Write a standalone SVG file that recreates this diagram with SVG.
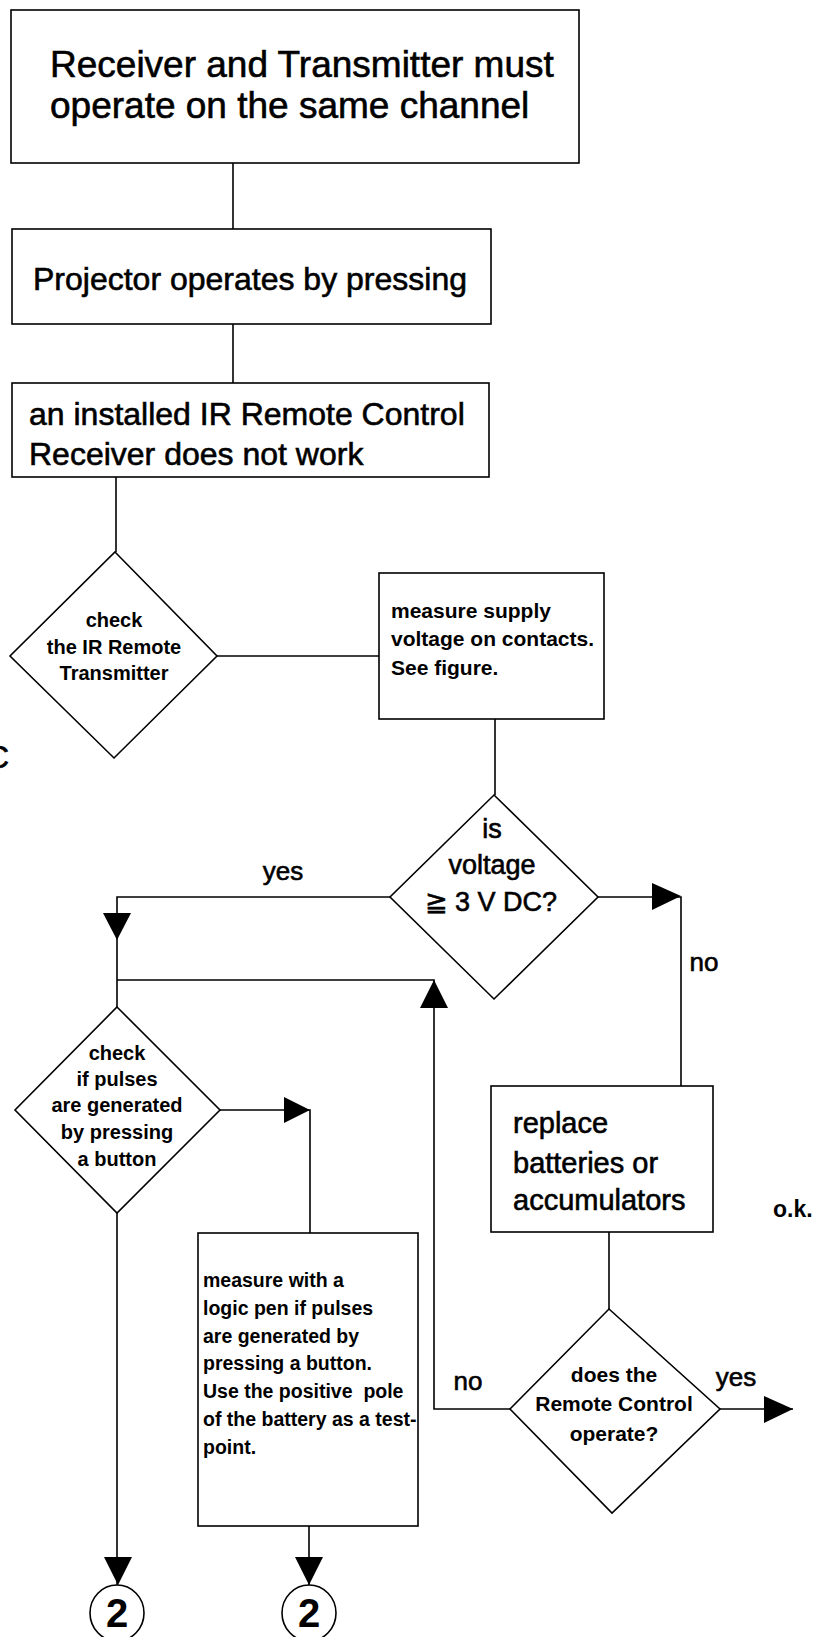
<svg xmlns="http://www.w3.org/2000/svg" width="816" height="1637" viewBox="0 0 816 1637">
<style>
.box{fill:#fff;stroke:#000;stroke-width:1.6}
.dia{fill:#fff;stroke:#000;stroke-width:1.6}
.ln{fill:none;stroke:#000;stroke-width:1.6}
.ah{fill:#000;stroke:none}
text{font-family:"Liberation Sans",Arial,"DejaVu Sans",sans-serif;fill:#000}
.hv{stroke:#000;stroke-width:0.6px}
.big{font-size:37px}
.mid{font-size:32px}
.rep{font-size:29px}
.q{font-size:27px;text-anchor:middle}
.lbl{font-size:26px;text-anchor:middle}
.sm{font-size:19.5px;font-weight:bold}
.smc{font-size:20px;font-weight:bold;text-anchor:middle}
.sm21{font-size:21px;font-weight:bold}
.smc21{font-size:21px;font-weight:bold;text-anchor:middle}
.num{font-size:40px;font-weight:bold;text-anchor:middle}
</style>
<rect width="816" height="1637" fill="#fff"/>
<g id="connectors">
<path class="ln" d="M233,163 V229"/>
<path class="ln" d="M233,324 V383"/>
<path class="ln" d="M116,477 V552"/>
<path class="ln" d="M217,656 H379"/>
<path class="ln" d="M495,719 V795"/>
<path class="ln" d="M390,897 H117 V1007"/>
<path class="ln" d="M117,980 H434 V1409 H510"/>
<path class="ln" d="M220,1110 H310 V1233"/>
<path class="ln" d="M598,897 H681 V1086"/>
<path class="ln" d="M609,1232 V1309"/>
<path class="ln" d="M720,1409 H793"/>
<path class="ln" d="M117,1213 V1585"/>
<path class="ln" d="M309,1526 V1585"/>
<polygon class="ah" points="103,913 131,913 117,940"/>
<polygon class="ah" points="420,1008 448,1008 434,980"/>
<polygon class="ah" points="284,1097 284,1123 310,1110"/>
<polygon class="ah" points="652,883 652,910 681,896"/>
<polygon class="ah" points="764,1396 764,1423 793,1409"/>
<polygon class="ah" points="104,1557 132,1557 118,1585"/>
<polygon class="ah" points="295,1557 323,1557 309,1585"/>
<text class="lbl hv" x="283" y="880">yes</text>
<text class="lbl hv" x="704" y="971">no</text>
<text class="lbl hv" x="468" y="1390">no</text>
<text class="lbl hv" x="736" y="1386">yes</text>
<text x="773" y="1217" style="font-size:23px;font-weight:bold">o.k.</text>
</g>
<g id="n1">
<rect class="box" x="11" y="10" width="568" height="153"/>
<text class="big hv" x="50" y="77">Receiver and Transmitter must</text>
<text class="big hv" x="50" y="118">operate on the same channel</text>
</g>
<g id="n2">
<rect class="box" x="12" y="229" width="479" height="95"/>
<text class="mid hv" x="33" y="290">Projector operates by pressing</text>
</g>
<g id="n3">
<rect class="box" x="12" y="383" width="477" height="94"/>
<text class="mid hv" x="29" y="425">an installed IR Remote Control</text>
<text class="mid hv" x="29" y="465">Receiver does not work</text>
</g>
<g id="d1">
<polygon class="dia" points="115,552 217,656 114,758 10,656"/>
<text class="smc" x="114" y="627">check</text>
<text class="smc" x="114" y="654">the IR Remote</text>
<text class="smc" x="114" y="680">Transmitter</text>
</g>
<g id="n4">
<rect class="box" x="379" y="573" width="225" height="146"/>
<text class="sm21" x="391" y="618">measure supply</text>
<text class="sm21" x="391" y="646">voltage on contacts.</text>
<text class="sm21" x="391" y="675">See figure.</text>
</g>
<g id="d2">
<polygon class="dia" points="494,795 598,897 494,999 390,897"/>
<text class="q hv" x="492" y="838">is</text>
<text class="q hv" x="492" y="874">voltage</text>
<text class="q hv" x="491" y="911">≧ 3 V DC?</text>
</g>
<g id="d3">
<polygon class="dia" points="117,1007 220,1110 117,1213 15,1110"/>
<text class="smc" x="117" y="1060">check</text>
<text class="smc" x="117" y="1086">if pulses</text>
<text class="smc" x="117" y="1112">are generated</text>
<text class="smc" x="117" y="1139">by pressing</text>
<text class="smc" x="117" y="1166">a button</text>
</g>
<g id="n5">
<rect class="box" x="198" y="1233" width="220" height="293"/>
<text class="sm" x="203" y="1287">measure with a</text>
<text class="sm" x="203" y="1315">logic pen if pulses</text>
<text class="sm" x="203" y="1343">are generated by</text>
<text class="sm" x="203" y="1370">pressing a button.</text>
<text class="sm" x="203" y="1398">Use the positive&#160; pole</text>
<text class="sm" x="203" y="1426">of the battery as a test-</text>
<text class="sm" x="203" y="1454">point.</text>
</g>
<g id="n6">
<rect class="box" x="491" y="1086" width="222" height="146"/>
<text class="rep hv" x="513" y="1133">replace</text>
<text class="rep hv" x="513" y="1173">batteries or</text>
<text class="rep hv" x="513" y="1210">accumulators</text>
</g>
<g id="d4">
<polygon class="dia" points="609,1309 720,1409 612,1513 510,1409"/>
<text class="smc21" x="614" y="1382">does the</text>
<text class="smc21" x="614" y="1411">Remote Control</text>
<text class="smc21" x="614" y="1441">operate?</text>
</g>
<g id="c1">
<ellipse class="box" cx="117" cy="1613" rx="27" ry="28"/>
<text class="num" x="117" y="1627">2</text>
</g>
<g id="c2">
<ellipse class="box" cx="309" cy="1613" rx="27" ry="28"/>
<text class="num" x="309" y="1627">2</text>
</g>
<text class="hv" x="-14" y="768" style="font-size:32px">C</text>
</svg>
